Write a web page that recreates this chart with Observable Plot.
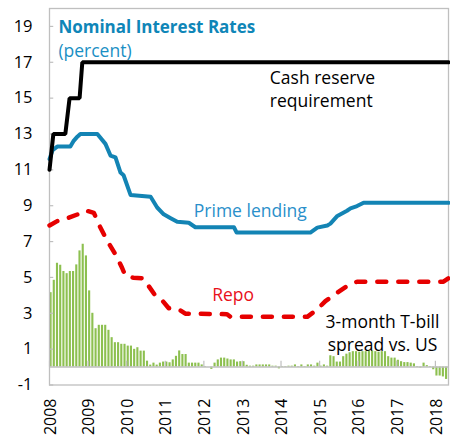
<!DOCTYPE html>
<html>
<head>
<meta charset="utf-8">
<script src="https://cdn.jsdelivr.net/npm/d3@7"></script>
<script src="https://cdn.jsdelivr.net/npm/@observablehq/plot@0.6"></script>
<style>
  html, body { margin: 0; padding: 0; background: #fff; }
  #chart svg { display: block; }
</style>
</head>
<body>
<div id="chart"></div>
<script>
// Cash reserve requirement (percent)
const cashYears  = [2008.0, 2008.1, 2008.41, 2008.52, 2008.78, 2008.85, 2018.34];
const cashValues = [11, 13, 13, 15, 15, 17, 17];

// Prime lending rate (percent)
const primeYears  = [2008.0, 2008.08, 2008.2, 2008.54, 2008.62, 2008.7, 2008.8, 2009.24, 2009.45, 2009.58, 2009.71, 2009.84, 2009.92, 2010.1, 2010.62, 2010.79, 2010.96, 2011.14, 2011.31, 2011.61, 2011.78, 2012.78, 2012.85, 2014.76, 2014.94, 2015.2, 2015.28, 2015.46, 2015.71, 2015.8, 2015.97, 2016.14, 2018.34];
const primeValues = [11.6, 12.1, 12.3, 12.3, 12.6, 12.8, 13.0, 13.0, 12.45, 11.8, 11.7, 10.85, 10.7, 9.6, 9.5, 8.9, 8.52, 8.3, 8.1, 8.05, 7.8, 7.8, 7.5, 7.5, 7.78, 7.9, 8.0, 8.43, 8.72, 8.85, 8.98, 9.17, 9.17];

// Repo rate (percent)
const repoYears  = [2008.0, 2008.2, 2008.5, 2008.72, 2008.93, 2009.15, 2009.28, 2009.5, 2009.71, 2009.88, 2009.97, 2010.18, 2010.44, 2010.57, 2010.75, 2010.92, 2011.09, 2011.35, 2011.52, 2012.6, 2012.69, 2014.68, 2014.94, 2015.15, 2015.46, 2015.71, 2015.97, 2018.21, 2018.34];
const repoValues = [7.9, 8.14, 8.33, 8.51, 8.74, 8.6, 7.95, 7.03, 6.28, 5.54, 5.07, 4.98, 4.95, 4.52, 3.96, 3.72, 3.28, 3.22, 2.98, 2.95, 2.8, 2.8, 3.22, 3.68, 4.15, 4.52, 4.76, 4.76, 4.95];

// 3-month T-bill spread vs. US, monthly from Jan 2008
const spreadStart = 2008;
const spreadValues = [
  4.15, 4.84, 5.79, 5.68, 5.33, 5.21, 5.33, 5.33, 5.7, 6.48, 6.85, 6.2,
  4.25, 3.0, 2.14, 2.33, 2.33, 2.33, 2.05, 1.64, 1.36, 1.36, 1.27, 1.27,
  1.17, 1.17, 0.99, 1.08, 0.89, 0.89, 0.33, 0.11, 0.22, 0.11, 0.22, 0.28,
  0.28, 0.24, 0.4, 0.6, 0.9, 0.7, 0.7, 0.22, 0.22, 0.22, 0.22, 0.12,
  0.03, 0.0, -0.13, 0.22, 0.4, 0.5, 0.5, 0.45, 0.4, 0.4, 0.28, 0.3,
  0.3, 0.1, 0.05, 0.05, 0.12, 0.12, 0.12, 0.12, 0.12, 0.05, 0.05, -0.1,
  0.03, 0.03, 0.05, 0.05, 0.12, 0.03, 0.12, 0.03, 0.12, 0.12, 0.05, 0.22,
  0.05, 0.12, 0.05, 0.63, 0.58, 0.28, 0.28, 0.58, 0.72, 0.8, 0.86, 0.86,
  0.83, 0.86, 0.86, 0.9, 0.9, 0.86, 0.83, 0.86, 0.86, 0.58, 0.5, 0.5,
  0.38, 0.3, 0.25, 0.25, 0.22, 0.18, 0.03, -0.05, 0.22, 0.08, 0.03, -0.15,
  -0.5, -0.5, -0.55, -0.69
];

const yTicks = [-1, 1, 3, 5, 7, 9, 11, 13, 15, 17, 19];
const xTicks = [2008, 2009, 2010, 2011, 2012, 2013, 2014, 2015, 2016, 2017, 2018];

const cash = cashYears.map((x, i) => ({x, y: cashValues[i]}));
const prime = primeYears.map((x, i) => ({x, y: primeValues[i]}));
const repo = repoYears.map((x, i) => ({x, y: repoValues[i]}));
const spread = spreadValues.map((v, i) => ({x1: spreadStart + i / 12, x2: spreadStart + (i + 1) / 12, y: v}));

const xDomain = [2008, 2018.34];
const gridGray = "#bfbfbf";
const blue = "#1384b4";

const chart = Plot.plot({
  width: 450,
  height: 441,
  marginLeft: 49,
  marginRight: 2,
  marginTop: 8,
  marginBottom: 56.5,
  style: {fontFamily: "'Open Sans', sans-serif", fontSize: "16px", color: "#000", background: "#fff"},
  x: {domain: xDomain, label: null},
  y: {domain: [-1, 20], label: null},
  marks: [
    Plot.rectY(spread, {x1: "x1", x2: "x2", y: "y", fill: "#8dc050", insetLeft: 0.5, insetRight: 0.6}),
    Plot.ruleY([0], {stroke: gridGray, strokeWidth: 1.5}),
    Plot.ruleX(xTicks, {x: d => d, y1: 0, y2: 0.33, stroke: gridGray, strokeWidth: 1.2}),
    Plot.ruleY(yTicks, {y: d => d, x1: xDomain[0], x2: xDomain[0] + 0.11, stroke: gridGray, strokeWidth: 1.2}),
    Plot.frame({stroke: gridGray, strokeWidth: 1.3}),
    Plot.axisY(yTicks, {tickSize: 0, tickPadding: 17, fontSize: 16.5, tickFormat: d => String(d), fill: "#000"}),
    Plot.axisX(xTicks, {tickSize: 0, tickPadding: 13.5, tickRotate: -90, fontSize: 16, tickFormat: d => String(d), fill: "#000", dx: 1}),
    Plot.line(repo, {x: "x", y: "y", stroke: "#e60000", strokeWidth: 4.5, strokeDasharray: "9,12", strokeLinecap: "round", strokeLinejoin: "round"}),
    Plot.line(prime, {x: "x", y: "y", stroke: blue, strokeWidth: 4, strokeLinejoin: "round"}),
    Plot.line(cash, {x: "x", y: "y", stroke: "#000", strokeWidth: 4, strokeLinejoin: "miter"}),
    Plot.text(["Nominal Interest Rates"], {text: d => d, x: 2008.23, y: 18.64, textAnchor: "start", lineAnchor: "bottom", fontWeight: "bold", fontSize: 17, fill: "#0f86b8"}),
    Plot.text(["(percent)"], {text: d => d, x: 2008.23, y: 17.32, textAnchor: "start", lineAnchor: "bottom", fontSize: 17.5, fill: "#1a8fc4"}),
    Plot.text(["Cash reserve\nrequirement"], {text: d => d, x: 2013.71, y: 14.53, textAnchor: "start", lineAnchor: "bottom", fontSize: 17.5, lineHeight: 1.31, fill: "#000"}),
    Plot.text(["Prime lending"], {text: d => d, x: 2011.74, y: 8.36, textAnchor: "start", lineAnchor: "bottom", fontSize: 17.5, fill: "#2a8fca"}),
    Plot.text(["Repo"], {text: d => d, x: 2012.215, y: 3.71, textAnchor: "start", lineAnchor: "bottom", fontSize: 17.5, fill: "#e8101a"}),
    Plot.text(["3-month T-bill\nspread vs. US"], {text: d => d, x: 2016.63, y: 0.89, textAnchor: "middle", lineAnchor: "bottom", fontSize: 17.5, lineHeight: 1.3, fill: "#000"})
  ]
});
document.getElementById("chart").appendChild(chart);
</script>
</body>
</html>
